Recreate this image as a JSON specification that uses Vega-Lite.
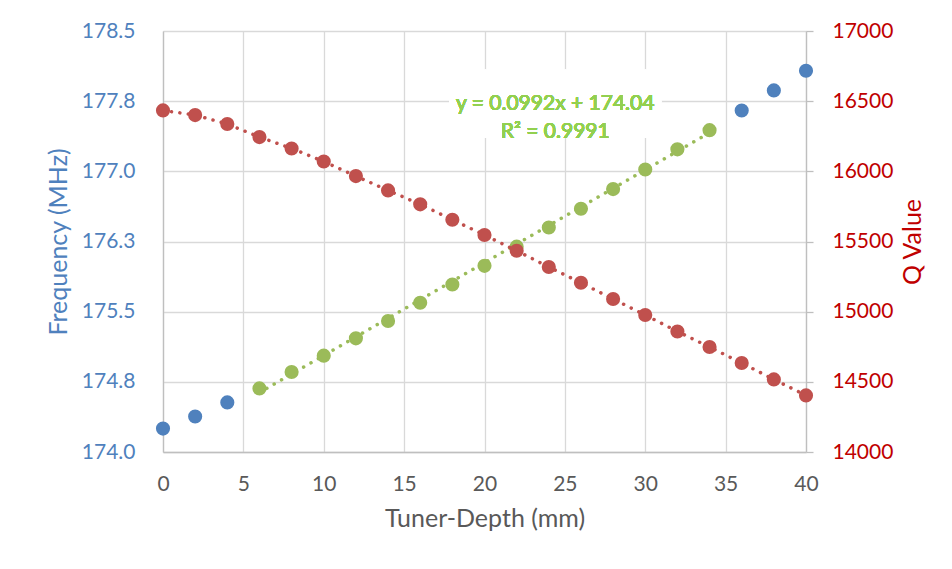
{
  "$schema": "https://vega.github.io/schema/vega-lite/v6.json",
  "width": 643,
  "height": 421,
  "autosize": {"type": "none"},
  "padding": {"left": 163, "top": 31, "right": 146, "bottom": 117},
  "background": "white",
  "config": {
    "font": "Lato",
    "view": {"stroke": null},
    "axis": {
      "labelFont": "Lato",
      "titleFont": "Lato",
      "labelFontSize": 21,
      "titleFontSize": 25,
      "titleFontWeight": "normal",
      "labelFlush": false,
      "labelOverlap": false,
      "gridColor": "#D9D9D9",
      "gridWidth": 1.3,
      "domainColor": "#BFBFBF",
      "domainWidth": 1.3,
      "tickColor": "#BFBFBF",
      "tickWidth": 1.3
    }
  },
  "datasets": {
    "tuning": [
      {"depth": 0, "freq": 174.25, "q": 16434, "group": "out"},
      {"depth": 2, "freq": 174.38, "q": 16401, "group": "out"},
      {"depth": 4, "freq": 174.53, "q": 16337, "group": "out"},
      {"depth": 6, "freq": 174.68, "q": 16244, "group": "fit"},
      {"depth": 8, "freq": 174.855, "q": 16163, "group": "fit"},
      {"depth": 10, "freq": 175.03, "q": 16070, "group": "fit"},
      {"depth": 12, "freq": 175.215, "q": 15966, "group": "fit"},
      {"depth": 14, "freq": 175.4, "q": 15864, "group": "fit"},
      {"depth": 16, "freq": 175.595, "q": 15765, "group": "fit"},
      {"depth": 18, "freq": 175.79, "q": 15655, "group": "fit"},
      {"depth": 20, "freq": 175.99, "q": 15546, "group": "fit"},
      {"depth": 22, "freq": 176.195, "q": 15434, "group": "fit"},
      {"depth": 24, "freq": 176.4, "q": 15318, "group": "fit"},
      {"depth": 26, "freq": 176.6, "q": 15206, "group": "fit"},
      {"depth": 28, "freq": 176.81, "q": 15090, "group": "fit"},
      {"depth": 30, "freq": 177.02, "q": 14976, "group": "fit"},
      {"depth": 32, "freq": 177.235, "q": 14859, "group": "fit"},
      {"depth": 34, "freq": 177.44, "q": 14748, "group": "fit"},
      {"depth": 36, "freq": 177.65, "q": 14634, "group": "out"},
      {"depth": 38, "freq": 177.865, "q": 14517, "group": "out"},
      {"depth": 40, "freq": 178.075, "q": 14403, "group": "out"}
    ],
    "trend": [
      {"depth": 6, "freq": 174.6352},
      {"depth": 34, "freq": 177.4128}
    ]
  },
  "data": {"name": "tuning"},
  "encoding": {
    "x": {
      "field": "depth",
      "type": "quantitative",
      "scale": {"domain": [0, 40], "nice": false, "zero": false},
      "axis": {
        "values": [0, 5, 10, 15, 20, 25, 30, 35, 40],
        "ticks": false,
        "labelPadding": 21,
        "labelColor": "#595959",
        "title": "Tuner-Depth (mm)",
        "titleColor": "#595959",
        "titlePadding": 12
      }
    }
  },
  "layer": [
    {
      "encoding": {
        "y": {
          "field": "freq",
          "type": "quantitative",
          "scale": {"domain": [174, 178.5], "nice": false, "zero": false},
          "axis": {
            "orient": "left",
            "values": [174, 174.75, 175.5, 176.25, 177, 177.75, 178.5],
            "format": ".1f",
            "ticks": false,
            "labelPadding": 28,
            "labelColor": "#4F81BD",
            "title": "Frequency (MHz)",
            "titleColor": "#4F81BD",
            "titlePadding": 10
          }
        }
      },
      "layer": [
        {
          "mark": {"type": "rect", "fill": "white"},
          "encoding": {
            "x": {"datum": 17.8},
            "x2": {"datum": 31.0},
            "y": {"datum": 177.36},
            "y2": {"datum": 178.085}
          }
        },
        {
          "data": {"name": "trend"},
          "mark": {
            "type": "line",
            "color": "#9BBB59",
            "strokeWidth": 3.5,
            "strokeDash": [0.1, 8.4],
            "strokeCap": "round"
          },
          "encoding": {}
        },
        {
          "mark": {"type": "circle", "size": 200, "opacity": 1},
          "encoding": {
            "color": {
              "field": "group",
              "type": "nominal",
              "scale": {"domain": ["out", "fit"], "range": ["#4F81BD", "#9BBB59"]},
              "legend": null
            }
          }
        },
        {
          "mark": {
            "type": "text",
            "text": ["y = 0.0992x + 174.04", "R² = 0.9991"],
            "color": "#92D050",
            "font": "Lato",
            "fontSize": 21,
            "fontWeight": "normal",
            "align": "center",
            "baseline": "middle",
            "lineHeight": 28
          },
          "encoding": {
            "x": {"datum": 24.4},
            "y": {"datum": 177.72}
          }
        }
      ]
    },
    {
      "encoding": {
        "y": {
          "field": "q",
          "type": "quantitative",
          "scale": {"domain": [14000, 17000], "nice": false, "zero": false},
          "axis": {
            "orient": "right",
            "values": [14000, 14500, 15000, 15500, 16000, 16500, 17000],
            "format": "d",
            "grid": false,
            "tickSize": 7,
            "labelPadding": 19,
            "labelColor": "#C00000",
            "title": "Q Value",
            "titleColor": "#C00000",
            "titleAngle": 270,
            "titleBaseline": "top",
            "titlePadding": 8
          }
        }
      },
      "layer": [
        {
          "mark": {
            "type": "line",
            "color": "#C0504D",
            "strokeWidth": 3.5,
            "strokeDash": [0.1, 8.4],
            "strokeCap": "round"
          },
          "encoding": {}
        },
        {
          "mark": {"type": "circle", "size": 200, "opacity": 1, "color": "#C0504D"},
          "encoding": {}
        }
      ]
    }
  ],
  "resolve": {"scale": {"y": "independent"}}
}
